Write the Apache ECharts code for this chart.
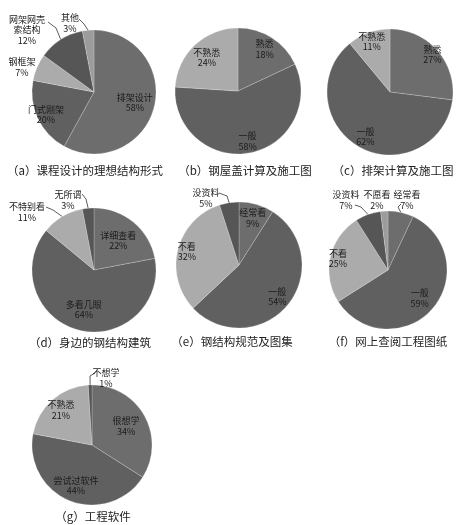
<!DOCTYPE html>
<html><head><meta charset="utf-8">
<script src="https://cdn.jsdelivr.net/npm/echarts/dist/echarts.min.js"></script>
<style>html,body{margin:0;padding:0;background:#fff}#c{width:458px;height:525px}</style>
</head><body><div id="c"></div>
<script>
// (a) 课程设计的理想结构形式
const namesA = ['排架设计', '门式刚架', '钢框架', '网架网壳\n索结构', '其他'];
const valuesA = [58, 20, 7, 12, 3];
// (b) 钢屋盖计算及施工图
const namesB = ['熟悉', '一般', '不熟悉'];
const valuesB = [18, 58, 24];
// (c) 排架计算及施工图
const namesC = ['熟悉', '一般', '不熟悉'];
const valuesC = [27, 62, 11];
// (d) 身边的钢结构建筑
const namesD = ['详细查看', '多看几眼', '不特别看', '无所谓'];
const valuesD = [22, 64, 11, 3];
// (e) 钢结构规范及图集
const namesE = ['经常看', '一般', '不看', '没资料'];
const valuesE = [9, 54, 32, 5];
// (f) 网上查阅工程图纸
const namesF = ['经常看', '一般', '不看', '没资料', '不愿看'];
const valuesF = [7, 59, 25, 7, 2];
// (g) 工程软件
const namesG = ['很想学', '尝试过软件', '不熟悉', '不想学'];
const valuesG = [34, 44, 21, 1];
// captions
const captions = ['（a）课程设计的理想结构形式', '（b）钢屋盖计算及施工图', '（c）排架计算及施工图',
  '（d）身边的钢结构建筑', '（e）钢结构规范及图集', '（f）网上查阅工程图纸', '（g）工程软件'];

const FONT = '"Noto Sans CJK SC", "DejaVu Serif", serif';
const C1 = '#6d6d6d', C2 = '#606060', C3 = '#ababab', C4 = '#565656', C5 = '#9c9c9c';

// label placement styling for the small slices drawn outside (text centre + leader-line bends)
const outsideA = { 2: { p: [22, 67], line: null }, 3: { p: [27, 30], line: [[56, 28], [48, 22]] }, 4: { p: [70, 23], line: [[84, 24], [79, 19]] } };
const outsideD = { 2: { p: [27, 212], line: [[53, 210], [46, 207]] }, 3: { p: [68, 200], line: [[86, 199], [82, 194]] } };
const outsideE = { 3: { p: [206, 198], line: [[227, 196], [219, 193]] } };
const outsideF = { 0: { p: [407, 200], line: [[398, 207], [401, 204]] }, 3: { p: [346, 200], line: [[361, 207], [355, 205]] }, 4: { p: [377, 200], line: null } };
const outsideG = { 3: { p: [106, 378], line: [[90, 376], [95, 373]] } };
// radial placement (fraction of radius) of the inside labels
const ratioA = [0.62, 0.78], ratioB = [0.72, 0.74, 0.66], ratioC = [0.82, 0.74, 0.78];
const ratioD = [0.56, 0.6], ratioE = [0.71, 0.72, 0.78], ratioF = [0, 0.65, 0.79], ratioG = [0.59, 0.66, 0.71];

function makePie(names, values, colors, outside, center, radius, ratio) {
  return {
    type: 'pie', center: center, radius: radius, startAngle: 90, clockwise: true,
    animation: false, silent: true, avoidLabelOverlap: false,
    itemStyle: { borderColor: 'rgba(255,255,255,0.35)', borderWidth: 0.6 },
    label: { show: true, position: 'inside', formatter: '{b}\n{c}%', fontSize: 9, lineHeight: 10.5,
      color: '#1a1a1a', fontFamily: FONT },
    labelLine: { show: true, length: 6, length2: 8, lineStyle: { color: '#333', width: 0.8 } },
    data: names.map(function (n, i) {
      const d = { name: n, value: values[i], itemStyle: { color: colors[i] } };
      if (outside[i]) {
        d.label = { position: 'outside', align: 'center' };
        d.labelLine = { show: !!outside[i].line };
      }
      return d;
    }),
    labelLayout: function (params) {
      const o = outside[params.dataIndex];
      const r = params.labelRect;
      if (o) {
        const res = { x: o.p[0], y: o.p[1], align: 'center', verticalAlign: 'middle' };
        if (o.line && params.labelLinePoints) {
          res.labelLinePoints = [params.labelLinePoints[0], o.line[0], o.line[1]];
        }
        return res;
      }
      const lx = r.x + r.width / 2, ly = r.y + r.height / 2;
      const s = ratio[params.dataIndex] / 0.5 - 1;
      return { dx: (lx - center[0]) * s, dy: (ly - center[1]) * s };
    }
  };
}

const chart = echarts.init(document.getElementById('c'), null, { renderer: 'canvas' });
const capPos = [[85, 171], [245, 171], [393, 171], [90, 343], [232, 342], [388, 342], [93, 517]];
chart.setOption({
  backgroundColor: '#fff',
  series: [
    makePie(namesA, valuesA, [C1, C2, C3, C4, C5], outsideA, [94, 92], 62, ratioA),
    makePie(namesB, valuesB, [C1, C2, C3], {}, [238, 91], 63, ratioB),
    makePie(namesC, valuesC, [C1, C2, C3], {}, [390, 92], 63, ratioC),
    makePie(namesD, valuesD, [C1, C2, C3, C4], outsideD, [94, 270], 62, ratioD),
    makePie(namesE, valuesE, [C1, C2, C3, C4], outsideE, [239, 265], 63, ratioE),
    makePie(namesF, valuesF, [C1, C2, C3, C4, C5], outsideF, [388, 270], 59, ratioF),
    makePie(namesG, valuesG, [C1, C2, C3, C4], outsideG, [92, 445], 60, ratioG)
  ],
  graphic: captions.map(function (t, i) {
    return { type: 'text', x: capPos[i][0], y: capPos[i][1], silent: true,
      style: { text: t, fill: '#222', fontSize: 11.5, fontFamily: FONT, align: 'center', verticalAlign: 'middle' } };
  })
});
</script></body></html>
